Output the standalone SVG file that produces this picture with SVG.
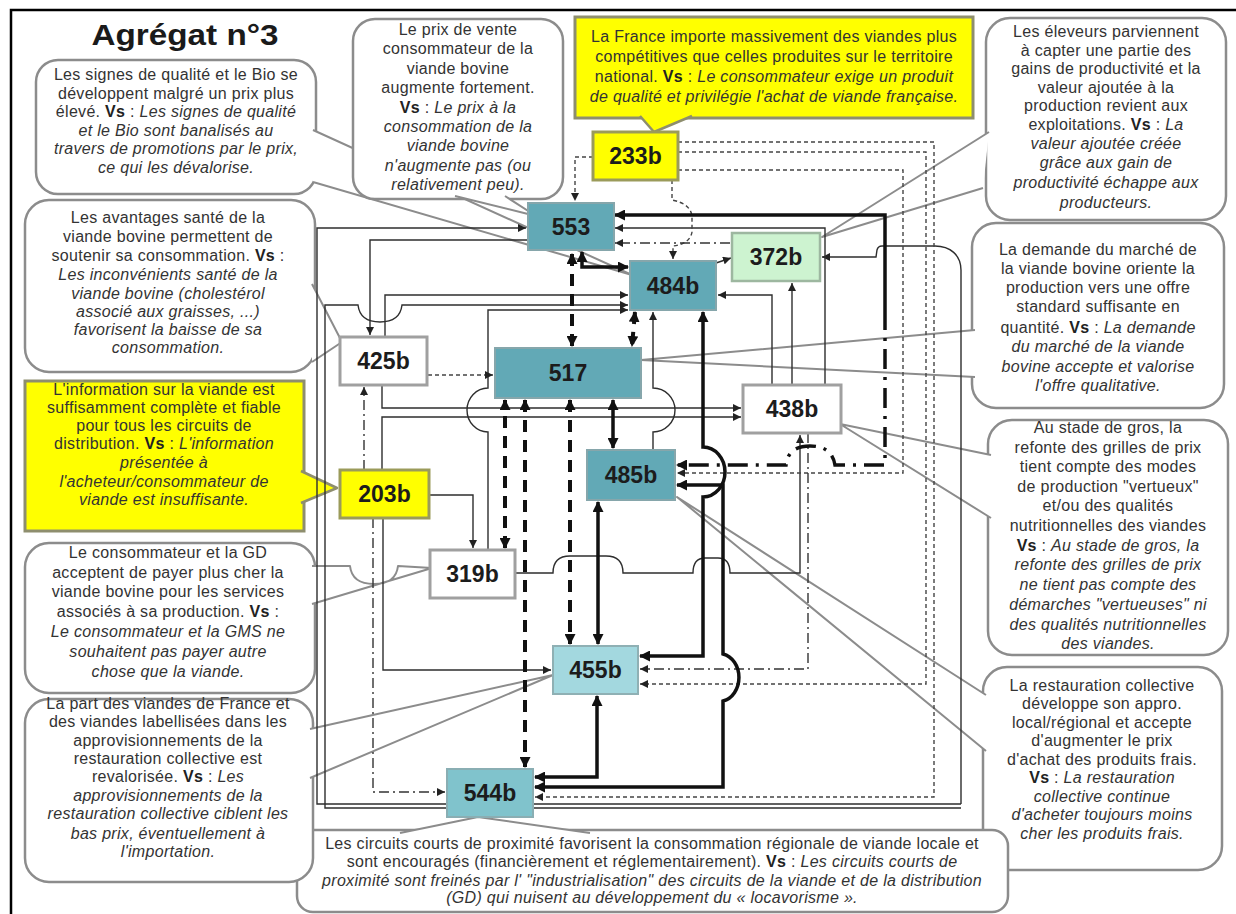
<svg xmlns="http://www.w3.org/2000/svg" width="1236" height="914" viewBox="0 0 1236 914">
  <style>
    .bx{fill:#fff;stroke:#8c8c8c;stroke-width:2.5}
    .yb{fill:#ffff00;stroke:#8e8e6e;stroke-width:3}
    .tl{fill:#fff;stroke:#8c8c8c;stroke-width:2;stroke-linejoin:round}
    .ytl{fill:#ffff00;stroke:#8e8e6e;stroke-width:2.5;stroke-linejoin:round}
    .tx{font-family:"Liberation Sans",Arial,sans-serif;font-size:16px;letter-spacing:0.3px;fill:#333;text-anchor:middle}
    .i{font-style:italic}
    .b{font-weight:bold;fill:#222}
    .c{fill:none;stroke:#2e2e2e;stroke-width:1.4}
    .d{fill:none;stroke:#444;stroke-width:1.4;stroke-dasharray:4 3}
    .dd{fill:none;stroke:#333;stroke-width:1.4;stroke-dasharray:10 4 2 4}
    .t{fill:none;stroke:#111;stroke-width:3.5}
    .td{fill:none;stroke:#111;stroke-width:4;stroke-dasharray:12 8}
    .tdd{fill:none;stroke:#111;stroke-width:3.5;stroke-dasharray:20 8 3 8}
    .nt{fill:#62a9b6;stroke:#86a6ab;stroke-width:2}
    .nl{fill:#a3d8df;stroke:#8fb0b4;stroke-width:2}
    .nm{fill:#80c3cc;stroke:#8aaeb3;stroke-width:2}
    .ng{fill:#cdf3d0;stroke:#9db7a0;stroke-width:2.5}
    .nw{fill:#fff;stroke:#a0a0a0;stroke-width:3}
    .ny{fill:#ffff00;stroke:#9b9b5a;stroke-width:3}
    .lb{font-family:"Liberation Sans",Arial,sans-serif;font-size:23px;font-weight:bold;fill:#1c1c1c;text-anchor:middle}
  </style>
  <defs>
    <marker id="a" markerUnits="userSpaceOnUse" markerWidth="9" markerHeight="8" refX="8" refY="4" orient="auto-start-reverse">
      <path d="M0,0 L8,4 L0,8 z" fill="#222"/>
    </marker>
    <marker id="ta" markerUnits="userSpaceOnUse" markerWidth="12" markerHeight="11" refX="10" refY="5.5" orient="auto-start-reverse">
      <path d="M0,0 L11,5.5 L0,11 z" fill="#111"/>
    </marker>
  </defs>

  <!-- frame -->
  <path d="M11,914 L11,10 L1236,10" fill="none" stroke="#000" stroke-width="2.5"/>
  <text x="185" y="45" font-family="Liberation Sans,Arial,sans-serif" font-size="30" font-weight="bold" fill="#1a1a1a" text-anchor="middle" textLength="187" lengthAdjust="spacingAndGlyphs">Agrégat n°3</text>

  <!-- callouts -->
  <g id="callout-qualite">
    <rect class="bx" x="36" y="60" width="280" height="134" rx="22"/>
    <path class="tl" d="M313,130 L632,275 L313,182"/>
    <text class="tx"><tspan x="176" y="80">Les signes de qualité et le Bio se</tspan><tspan x="176" y="98.5">développent  malgré un prix plus</tspan><tspan x="176" y="117">élevé. <tspan class="b">Vs</tspan> : <tspan class="i">Les signes de qualité</tspan></tspan><tspan x="176" y="135.5" class="i">et le Bio sont banalisés au</tspan><tspan x="176" y="154" class="i">travers de promotions par le prix,</tspan><tspan x="176" y="172.5" class="i">ce qui les dévalorise.</tspan></text>
  </g>
  <g id="callout-prix">
    <rect class="bx" x="353" y="19" width="210" height="180" rx="22"/>
    <path class="tl" d="M455,196 L536,216 L505,196"/>
    <text class="tx"><tspan x="458" y="35">Le prix de vente</tspan><tspan x="458" y="54">consommateur de la</tspan><tspan x="458" y="73.5">viande  bovine</tspan><tspan x="458" y="93">augmente fortement.</tspan><tspan x="458" y="112.5"><tspan class="b">Vs</tspan> : <tspan class="i">Le prix à la</tspan></tspan><tspan x="458" y="132" class="i">consommation de la</tspan><tspan x="458" y="151" class="i">viande bovine</tspan><tspan x="458" y="170.5" class="i">n'augmente  pas (ou</tspan><tspan x="458" y="190" class="i">relativement  peu).</tspan></text>
  </g>
  <g id="callout-import">
    <rect class="yb" x="575" y="17" width="398" height="101"/>
    <path class="ytl" d="M640,116 L654,132 L692,116"/>
    <text class="tx"><tspan x="774" y="42">La France importe massivement des viandes plus</tspan><tspan x="774" y="62">compétitives que celles produites sur le territoire</tspan><tspan x="774" y="82">national. <tspan class="b">Vs</tspan> : <tspan class="i">Le consommateur exige un produit</tspan></tspan><tspan x="774" y="102" class="i">de qualité et privilégie l'achat de viande française.</tspan></text>
  </g>
  <g id="callout-eleveurs">
    <rect class="bx" x="986" y="18" width="240" height="202" rx="24"/>
    <path class="tl" d="M989,132 L822,237 L983,188"/>
    <text class="tx"><tspan x="1106" y="37">Les éleveurs  parviennent</tspan><tspan x="1106" y="55.5">à capter une partie des</tspan><tspan x="1106" y="74">gains de productivité  et la</tspan><tspan x="1106" y="92.5">valeur  ajoutée à la</tspan><tspan x="1106" y="111">production revient  aux</tspan><tspan x="1106" y="130">exploitations. <tspan class="b">Vs</tspan> : <tspan class="i">La</tspan></tspan><tspan x="1106" y="149" class="i">valeur ajoutée créée</tspan><tspan x="1106" y="168" class="i">grâce aux gain de</tspan><tspan x="1106" y="188" class="i">productivité échappe aux</tspan><tspan x="1106" y="208" class="i">producteurs.</tspan></text>
  </g>
  <g id="callout-demande">
    <rect class="bx" x="972" y="223" width="252" height="185" rx="24"/>
    <path class="tl" d="M975,330 L641,360 L975,377"/>
    <text class="tx"><tspan x="1098" y="255">La demande  du marché de</tspan><tspan x="1098" y="274">la viande  bovine oriente la</tspan><tspan x="1098" y="293">production vers  une offre</tspan><tspan x="1098" y="312">standard suffisante en</tspan><tspan x="1098" y="333">quantité. <tspan class="b">Vs</tspan> : <tspan class="i">La demande</tspan></tspan><tspan x="1098" y="352" class="i">du marché de la viande</tspan><tspan x="1098" y="372" class="i">bovine accepte et valorise</tspan><tspan x="1098" y="391" class="i">l'offre qualitative.</tspan></text>
  </g>
  <g id="callout-gros">
    <rect class="bx" x="988" y="420" width="240" height="235" rx="24"/>
    <path class="tl" d="M991,455 L840,424 L991,518"/>
    <text class="tx"><tspan x="1108" y="433">Au stade de gros, la</tspan><tspan x="1108" y="452.5">refonte  des grilles de prix</tspan><tspan x="1108" y="472">tient compte des modes</tspan><tspan x="1108" y="491.5">de production  "vertueux"</tspan><tspan x="1108" y="511">et/ou des qualités</tspan><tspan x="1108" y="530.5">nutritionnelles  des viandes</tspan><tspan x="1108" y="550.5"><tspan class="b">Vs</tspan> : <tspan class="i">Au stade de gros, la</tspan></tspan><tspan x="1108" y="570" class="i">refonte des grilles de prix</tspan><tspan x="1108" y="589.5" class="i">ne tient pas compte des</tspan><tspan x="1108" y="610" class="i">démarches "vertueuses" ni</tspan><tspan x="1108" y="630" class="i">des qualités nutritionnelles</tspan><tspan x="1108" y="649" class="i">des viandes.</tspan></text>
  </g>
  <g id="callout-restauration">
    <rect class="bx" x="983" y="667" width="239" height="203" rx="24"/>
    <path class="tl" d="M986,695 L677,497 L986,751"/>
    <text class="tx"><tspan x="1102" y="691">La restauration  collective</tspan><tspan x="1102" y="709">développe  son appro.</tspan><tspan x="1102" y="727.5">local/régional  et accepte</tspan><tspan x="1102" y="746">d'augmenter  le prix</tspan><tspan x="1102" y="764.5">d'achat des produits frais.</tspan><tspan x="1102" y="783"><tspan class="b">Vs</tspan> : <tspan class="i">La restauration</tspan></tspan><tspan x="1102" y="801.5" class="i">collective continue</tspan><tspan x="1102" y="820" class="i">d'acheter  toujours moins</tspan><tspan x="1102" y="839" class="i">cher les produits frais.</tspan></text>
  </g>
  <g id="callout-circuits">
    <rect class="bx" x="297" y="830" width="711" height="82" rx="16"/>
    <path class="tl" d="M400,833 L478,817 L590,833"/>
    <text class="tx"><tspan x="652" y="849">Les circuits courts de proximité favorisent  la consommation régionale de viande locale et</tspan><tspan x="652" y="867">sont encouragés (financièrement  et réglementairement).  <tspan class="b">Vs</tspan> : <tspan class="i">Les circuits courts de</tspan></tspan><tspan x="652" y="885.5" class="i">proximité sont freinés par l' "industrialisation" des circuits de la viande et de la distribution</tspan><tspan x="652" y="903" class="i">(GD) qui nuisent au développement  du « locavorisme ».</tspan></text>
  </g>
  <g id="callout-sante">
    <rect class="bx" x="25" y="200" width="290" height="172" rx="24"/>
    <path class="tl" d="M312,284 L342,342 L312,362"/>
    <text class="tx"><tspan x="168" y="223">Les avantages  santé de la</tspan><tspan x="168" y="242">viande  bovine  permettent de</tspan><tspan x="168" y="261">soutenir sa consommation. <tspan class="b">Vs</tspan> :</tspan><tspan x="168" y="280" class="i">Les inconvénients  santé de la</tspan><tspan x="168" y="299" class="i">viande  bovine (cholestérol</tspan><tspan x="168" y="317" class="i">associé aux graisses, ...)</tspan><tspan x="168" y="335" class="i">favorisent  la baisse de sa</tspan><tspan x="168" y="353" class="i">consommation.</tspan></text>
  </g>
  <g id="callout-information">
    <rect class="yb" x="25" y="381" width="279" height="150"/>
    <path class="ytl" d="M301,471 L337,488 L301,503"/>
    <text class="tx"><tspan x="164" y="395">L'information  sur la viande  est</tspan><tspan x="164" y="413">suffisamment  complète et fiable</tspan><tspan x="164" y="431">pour tous les circuits de</tspan><tspan x="164" y="449">distribution. <tspan class="b">Vs</tspan> : <tspan class="i">L'information</tspan></tspan><tspan x="164" y="468" class="i">présentée à</tspan><tspan x="164" y="487" class="i">l'acheteur/consommateur  de</tspan><tspan x="164" y="505" class="i">viande  est insuffisante.</tspan></text>
  </g>
  <g id="callout-services">
    <rect class="bx" x="25" y="543" width="290" height="150" rx="24"/>
    <path class="tl" d="M312,566 L350,566 Q352,584 374,584 Q396,584 398,566 L432,568 L312,604"/>
    <text class="tx"><tspan x="168" y="558">Le consommateur  et la GD</tspan><tspan x="168" y="578">acceptent de payer plus cher la</tspan><tspan x="168" y="597">viande  bovine pour les services</tspan><tspan x="168" y="617">associés à sa production. <tspan class="b">Vs</tspan> :</tspan><tspan x="168" y="637" class="i">Le consommateur et la GMS ne</tspan><tspan x="168" y="657" class="i">souhaitent pas payer autre</tspan><tspan x="168" y="677" class="i">chose que la viande.</tspan></text>
  </g>
  <g id="callout-approvisionnement">
    <rect class="bx" x="25" y="699" width="288" height="183" rx="24"/>
    <path class="tl" d="M310,729 L553,675 L310,778"/>
    <text class="tx"><tspan x="168" y="709">La part des viandes de France et</tspan><tspan x="168" y="727">des viandes  labellisées dans les</tspan><tspan x="168" y="746">approvisionnements  de la</tspan><tspan x="168" y="764">restauration  collective est</tspan><tspan x="168" y="782">revalorisée. <tspan class="b">Vs</tspan> : <tspan class="i">Les</tspan></tspan><tspan x="168" y="801" class="i">approvisionnements  de la</tspan><tspan x="168" y="819" class="i">restauration  collective ciblent les</tspan><tspan x="168" y="839" class="i">bas prix, éventuellement à</tspan><tspan x="168" y="857" class="i">l'importation.</tspan></text>
  </g>

  <!-- connectors -->
  <g id="connectors">
    <!-- thin solid -->
    <path class="c" d="M961,804 L317,804 L317,228 L526,228" marker-end="url(#a)"/>
    <path class="c" d="M961,804 L961,270 C961,255 950,246 935,246 L882,246 Q878,246 877,250 L876,257 L822,257" marker-end="url(#a)"/>
    <path class="c" d="M961,808 L325,808 L325,305 L358,305 Q360,322 380,322 Q400,322 402,305 L628,305" marker-end="url(#a)"/>
    <path class="c" d="M527,240 L370,240 L370,335" marker-end="url(#a)"/>
    <path class="c" d="M385,337 L385,295 L628,295" marker-end="url(#a)"/>
    <path class="c" d="M488,550 L488,432 A21,22 0 0 1 488,388 L488,310 L628,310" marker-end="url(#a)"/>
    <path class="c" d="M653,450 L653,432 A22,22 0 0 0 653,388 L653,312" marker-end="url(#a)"/>
    <path class="c" d="M772,385 L772,295 L718,295" marker-end="url(#a)"/>
    <path class="c" d="M792,385 L792,283" marker-end="url(#a)"/>
    <path class="c" d="M825,385 L825,228 L615,228" marker-end="url(#a)"/>
    <path class="c" d="M716,263 L731,258" marker-end="url(#a)"/>
    <path class="c" d="M382,385 L382,408 L741,408" marker-end="url(#a)"/>
    <path class="c" d="M382,470 L382,417 L741,417" marker-end="url(#a)"/>
    <path class="c" d="M383,518 L383,670 L551,670" marker-end="url(#a)"/>
    <path class="c" d="M429,495 L473,495 L473,548" marker-end="url(#a)"/>
    <path class="c" d="M515,573 L553,573 Q553,556 570,556 L606,556 Q623,556 623,573 L693,573 Q693,558 705,558 L718,558 Q730,558 730,573 L800,573 L800,435" marker-end="url(#a)"/>
    <!-- dotted -->
    <path class="d" d="M593,157 L575,157 L575,201" marker-end="url(#a)"/>
    <path class="d" d="M672,180 L672,200 Q692,204 692,218 L692,232 Q690,244 673,246 L673,259" marker-end="url(#a)"/>
    <path class="d" d="M678,170 L903,170 L903,473 L677,473" marker-end="url(#a)"/>
    <path class="d" d="M678,152 L926,152 L926,684 L640,684" marker-end="url(#a)"/>
    <path class="d" d="M678,142 L934,142 L934,797 L535,797" marker-end="url(#a)"/>
    <path class="d" d="M428,375 L493,375" marker-end="url(#a)"/>
    <!-- dash-dot -->
    <path class="dd" d="M730,243 L615,243" marker-end="url(#a)"/>
    <path class="dd" d="M364,470 L364,387" marker-end="url(#a)"/>
    <path class="dd" d="M373,518 L373,792 L445,792" marker-end="url(#a)"/>
    <path class="dd" d="M808,433 L808,669 L640,669" marker-end="url(#a)"/>
    <!-- thick solid -->
    <path class="t" d="M582,252 L582,267 L628,267" marker-start="url(#ta)" marker-end="url(#ta)"/>
    <path class="t" d="M885,310 L885,215 L615,215" marker-end="url(#ta)"/>
    <path class="t" d="M703,312 L703,447 A22,25 0 0 1 703,497 L703,656 L640,656" marker-start="url(#ta)" marker-end="url(#ta)"/>
    <path class="t" d="M677,485 L723,485 L723,654 A20,24 0 0 1 723,701 L723,787 L535,787" marker-start="url(#ta)" marker-end="url(#ta)"/>
    <path class="t" d="M535,777 L597,777 L597,696" marker-start="url(#ta)" marker-end="url(#ta)"/>
    <path class="t" d="M598,502 L598,644" marker-start="url(#ta)" marker-end="url(#ta)"/>
    <path class="t" d="M613,400 L613,448" marker-start="url(#ta)" marker-end="url(#ta)"/>
    <!-- thick dashed -->
    <path class="td" d="M505,548 L505,400" marker-start="url(#ta)" marker-end="url(#ta)"/>
    <path class="td" d="M525,400 L525,767" marker-start="url(#ta)" marker-end="url(#ta)"/>
    <path class="td" d="M570,400 L570,644" marker-start="url(#ta)" marker-end="url(#ta)"/>
    <path class="td" d="M572,254 L572,346" marker-start="url(#ta)" marker-end="url(#ta)"/>
    <path class="td" d="M635,312 L632,346" marker-start="url(#ta)" marker-end="url(#ta)"/>
    <!-- thick dash-dot -->
    <path class="tdd" d="M885,310 L885,465 L835,465 Q832,446 810,446 Q788,446 786,465 L677,465" marker-end="url(#ta)"/>
  </g>

  <!-- nodes -->
  <g id="n553"><rect class="nt" x="528" y="203" width="86" height="47"/><text class="lb" x="571" y="235">553</text></g>
  <g id="n484b"><rect class="nt" x="630" y="261" width="86" height="49"/><text class="lb" x="673" y="294">484b</text></g>
  <g id="n372b"><rect class="ng" x="732" y="233" width="88" height="48"/><text class="lb" x="776" y="265">372b</text></g>
  <g id="n233b"><rect class="ny" x="593" y="132" width="85" height="48"/><text class="lb" x="635.5" y="164">233b</text></g>
  <g id="n517"><rect class="nt" x="495" y="348" width="146" height="50"/><text class="lb" x="568" y="381">517</text></g>
  <g id="n425b"><rect class="nw" x="340" y="337" width="87" height="48"/><text class="lb" x="383.5" y="369">425b</text></g>
  <g id="n438b"><rect class="nw" x="743" y="385" width="98" height="48"/><text class="lb" x="792" y="417">438b</text></g>
  <g id="n203b"><rect class="ny" x="340" y="470" width="89" height="48"/><text class="lb" x="384.5" y="502">203b</text></g>
  <g id="n319b"><rect class="nw" x="430" y="550" width="85" height="48"/><text class="lb" x="472.5" y="582">319b</text></g>
  <g id="n485b"><rect class="nt" x="587" y="450" width="88" height="50"/><text class="lb" x="631" y="483">485b</text></g>
  <g id="n455b"><rect class="nl" x="553" y="646" width="85" height="48"/><text class="lb" x="595.5" y="678">455b</text></g>
  <g id="n544b"><rect class="nm" x="447" y="769" width="86" height="48"/><text class="lb" x="490" y="801">544b</text></g>
</svg>
